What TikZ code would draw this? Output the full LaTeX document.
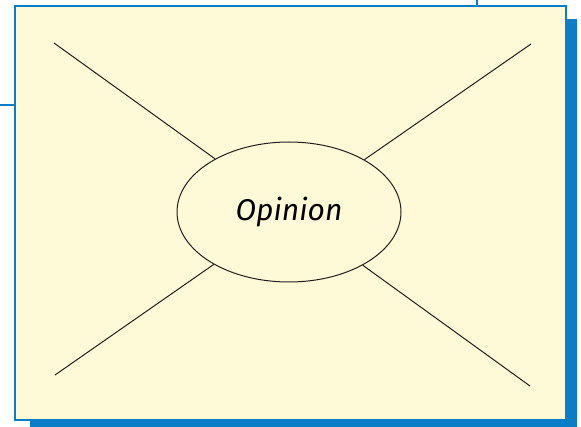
\documentclass[tikz,border=0pt]{standalone}
\usepackage{fontspec}
\usepackage{xcolor}
\usepackage{tikz}
\usetikzlibrary{shapes.geometric}
\newfontfamily\handfont{Fira Sans Italic}
\definecolor{bluex}{HTML}{0B7CC6}
\definecolor{paperx}{HTML}{FEF9D6}
\definecolor{inkx}{HTML}{231F20}
\tikzset{
  spoke/.style={draw=inkx,line width=1pt},
  bubble/.style={ellipse,draw=inkx,line width=1pt,minimum width=224pt,minimum height=140pt,inner sep=0pt}
}
\begin{document}
\begin{tikzpicture}[x=1pt,y=-1pt]
\useasboundingbox (0,0) rectangle (581,427);
% frame and shadow
\fill[bluex] (30,19) rectangle (577,430);
\draw[bluex,line width=1.6pt] (0,105) -- (15,105);
\draw[bluex,line width=1.2pt] (477,0) -- (477,7);
\draw[bluex,line width=2pt,fill=paperx] (15,6) rectangle (566,420);
% centre
\node[bubble] (op) at (289,212) {\handfont\fontsize{30}{34}\selectfont Opinion};
\coordinate (tl) at (54,43);
\coordinate (tr) at (531,44);
\coordinate (bl) at (55,375);
\coordinate (br) at (530,386);
\draw[spoke] (tl) -- (op);
\draw[spoke] (tr) -- (op);
\draw[spoke] (bl) -- (op);
\draw[spoke] (br) -- (op);
\end{tikzpicture}
\end{document}
